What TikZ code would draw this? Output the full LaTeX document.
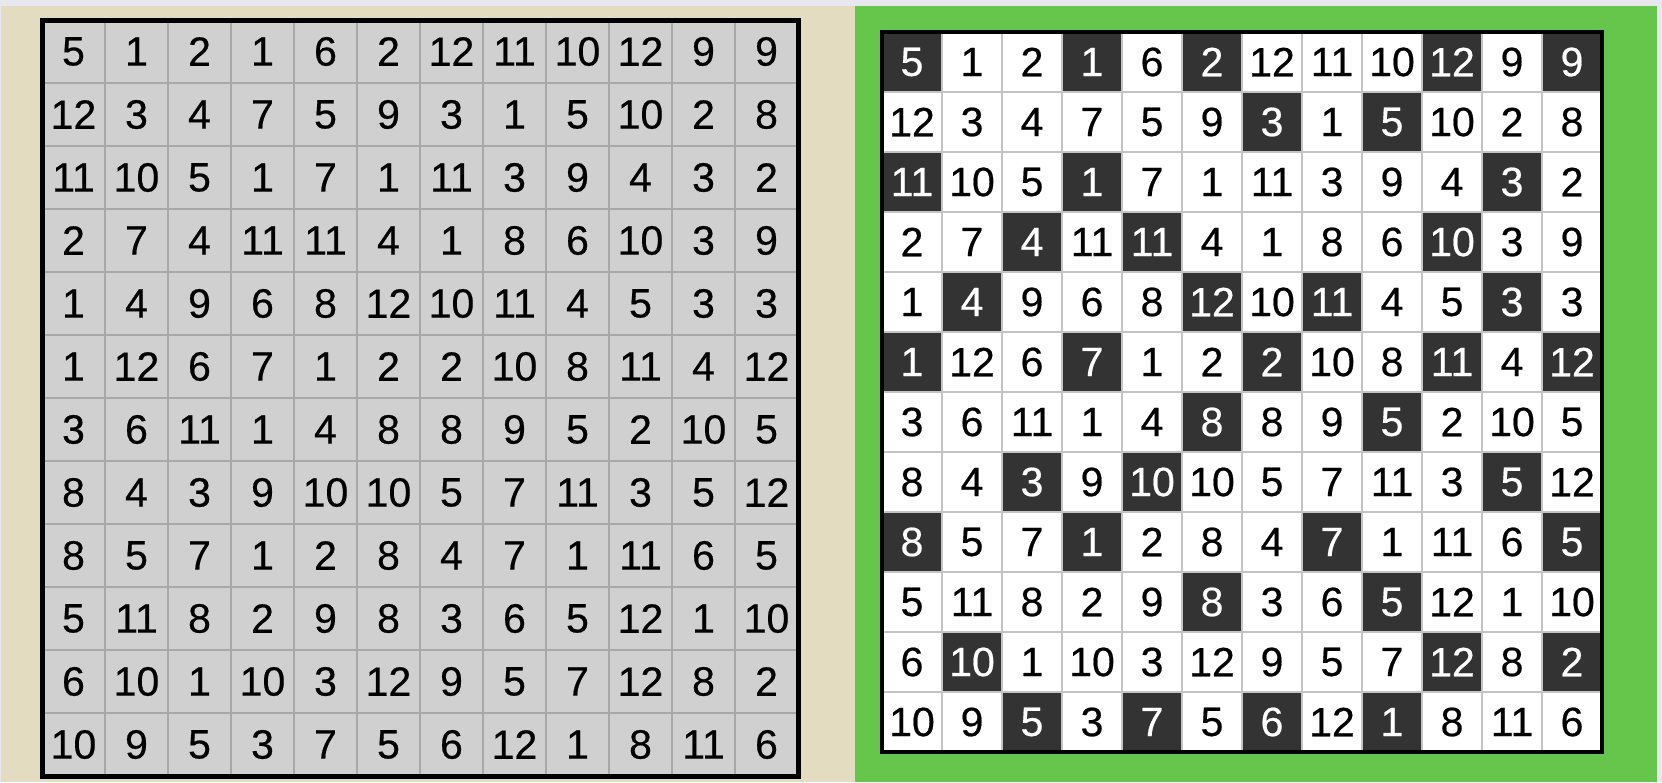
\documentclass[tikz,border=0pt]{standalone}
\usepackage{fontspec}
\setmainfont{Liberation Sans}
\newfontfamily\numfam[FakeBold=0.5]{Liberation Sans}
\definecolor{topstrip}{RGB}{232,230,238}
\definecolor{beigebg}{RGB}{227,220,192}
\definecolor{greenbg}{RGB}{102,198,76}
\definecolor{cellgrey}{RGB}{208,208,208}
\definecolor{lgridline}{RGB}{168,168,168}
\definecolor{rgridline}{RGB}{196,196,196}
\definecolor{darkcell}{RGB}{51,51,51}
\tikzset{
  numfont/.style={font=\numfam\fontsize{41}{41}\selectfont},
  lcell/.style={numfont, draw=lgridline, line width=1.5pt, fill=cellgrey, minimum size=63pt, inner sep=0pt, outer sep=0pt, text=black},
  cellw/.style={numfont, draw=rgridline, line width=1.5pt, fill=white, minimum size=60pt, inner sep=0pt, outer sep=0pt, text=black},
  celld/.style={numfont, draw=rgridline, line width=1.5pt, fill=darkcell, minimum size=60pt, inner sep=0pt, outer sep=0pt, text=white},
  gridframe/.style={draw=black, line width=5pt},
}
\begin{document}
\begin{tikzpicture}[x=1pt,y=-1pt]
\useasboundingbox (0,0) rectangle (1662,782);
\fill[topstrip] (0,0) rectangle (1662,782);
\fill[beigebg] (1,6) rectangle (855,782);
\fill[greenbg] (855,6) rectangle (1657,782);
% left grid
\foreach \row [count=\r] in {
  {5,1,2,1,6,2,12,11,10,12,9,9},
  {12,3,4,7,5,9,3,1,5,10,2,8},
  {11,10,5,1,7,1,11,3,9,4,3,2},
  {2,7,4,11,11,4,1,8,6,10,3,9},
  {1,4,9,6,8,12,10,11,4,5,3,3},
  {1,12,6,7,1,2,2,10,8,11,4,12},
  {3,6,11,1,4,8,8,9,5,2,10,5},
  {8,4,3,9,10,10,5,7,11,3,5,12},
  {8,5,7,1,2,8,4,7,1,11,6,5},
  {5,11,8,2,9,8,3,6,5,12,1,10},
  {6,10,1,10,3,12,9,5,7,12,8,2},
  {10,9,5,3,7,5,6,12,1,8,11,6}} {
  \foreach \v [count=\c] in \row {
    \node[lcell] (L-\r-\c) at ({42+63*(\c-0.5)},{20+63*(\r-0.5)}) {\v};
  }
}
\draw[gridframe] (42,20) rectangle (798,776);
% right grid
\foreach \row [count=\r] in {
  {5/d,1/w,2/w,1/d,6/w,2/d,12/w,11/w,10/w,12/d,9/w,9/d},
  {12/w,3/w,4/w,7/w,5/w,9/w,3/d,1/w,5/d,10/w,2/w,8/w},
  {11/d,10/w,5/w,1/d,7/w,1/w,11/w,3/w,9/w,4/w,3/d,2/w},
  {2/w,7/w,4/d,11/w,11/d,4/w,1/w,8/w,6/w,10/d,3/w,9/w},
  {1/w,4/d,9/w,6/w,8/w,12/d,10/w,11/d,4/w,5/w,3/d,3/w},
  {1/d,12/w,6/w,7/d,1/w,2/w,2/d,10/w,8/w,11/d,4/w,12/d},
  {3/w,6/w,11/w,1/w,4/w,8/d,8/w,9/w,5/d,2/w,10/w,5/w},
  {8/w,4/w,3/d,9/w,10/d,10/w,5/w,7/w,11/w,3/w,5/d,12/w},
  {8/d,5/w,7/w,1/d,2/w,8/w,4/w,7/d,1/w,11/w,6/w,5/d},
  {5/w,11/w,8/w,2/w,9/w,8/d,3/w,6/w,5/d,12/w,1/w,10/w},
  {6/w,10/d,1/w,10/w,3/w,12/w,9/w,5/w,7/w,12/d,8/w,2/d},
  {10/w,9/w,5/d,3/w,7/d,5/w,6/d,12/w,1/d,8/w,11/w,6/w}} {
  \foreach \v/\s [count=\c] in \row {
    \node[cell\s] (R-\r-\c) at ({882+60*(\c-0.5)},{32+60*(\r-0.5)}) {\v};
  }
}
\draw[gridframe, line width=4pt] (882,32) rectangle (1602,752);
\end{tikzpicture}
\end{document}
